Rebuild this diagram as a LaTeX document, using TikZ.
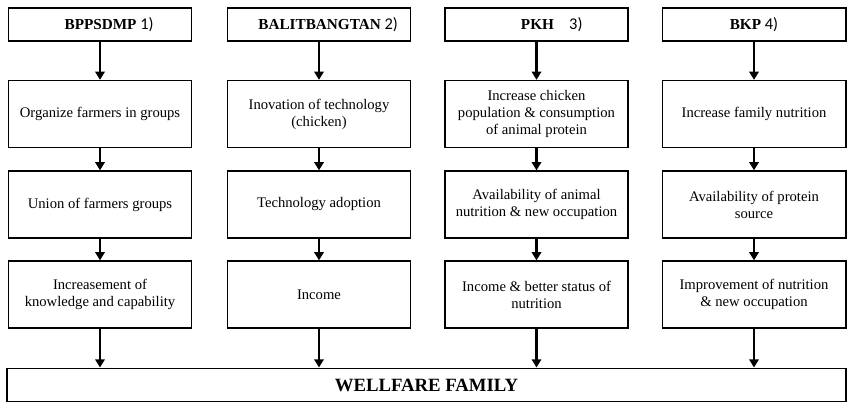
\documentclass[tikz,border=0pt]{standalone}
\usepackage{fontspec}
\setmainfont{Liberation Serif}
\setsansfont{Carlito}
\usetikzlibrary{arrows.meta}
\begin{document}
\begin{tikzpicture}[x=0.03cm,y=-0.03cm,
  box/.style={draw, line width=1.4pt, align=center, minimum width=5.5cm, inner sep=2pt,
    font=\fontsize{12.5}{14.5}\selectfont},
  head/.style={box, minimum height=1.0cm, font=\fontsize{13}{15}\selectfont\bfseries},
  stage/.style={box, minimum height=2.0cm},
  flow/.style={line width=2pt, -{Triangle[width=8pt,length=7pt]}}]
\useasboundingbox (0,0) rectangle (847,404);
% headers
\node[head] (h1) at (100,24.5) {\hspace{1.2em}BPPSDMP {\sffamily\mdseries\fontsize{14}{16}\selectfont 1)}};
\node[head] (h2) at (319,24.5) {\hspace{1.2em}BALITBANGTAN {\sffamily\mdseries\fontsize{14}{16}\selectfont 2)}};
\node[head] (h3) at (536.5,24.5) {\hspace{2em}PKH\quad {\sffamily\mdseries\fontsize{14}{16}\selectfont 3)}};
\node[head] (h4) at (754,24.5) {BKP {\sffamily\mdseries\fontsize{14}{16}\selectfont 4)}};
% first row
\node[stage] (a1) at (100,114) {Organize farmers in groups};
\node[stage] (a2) at (319,114) {Inovation of technology\\(chicken)};
\node[stage] (a3) at (536.5,114) {Increase chicken\\population \& consumption\\of animal protein};
\node[stage] (a4) at (754,114) {Increase family nutrition};
% second row
\node[stage] (u1) at (100,204.5) {Union of farmers groups};
\node[stage] (u2) at (319,204.5) {Technology adoption};
\node[stage] (u3) at (536.5,204.5) {Availability of animal\\nutrition \& new occupation};
\node[stage] (u4) at (754,204.5) {Availability of protein\\source};
% third row
\node[stage] (o1) at (100,294.5) {Increasement of\\knowledge and capability};
\node[stage] (o2) at (319,294.5) {Income};
\node[stage] (o3) at (536.5,294.5) {Income \& better status of\\nutrition};
\node[stage] (o4) at (754,294.5) {Improvement of nutrition\\\& new occupation};
% result
\node[box, minimum width=25.17cm, minimum height=1.0cm, font=\fontsize{16}{18}\selectfont\bfseries] (w) at (426.5,385) {WELLFARE FAMILY};
\draw[flow] (h1) -- (a1);
\draw[flow] (h2) -- (a2);
\draw[flow] (h3) -- (a3);
\draw[flow] (h4) -- (a4);
\draw[flow] (a1) -- (u1);
\draw[flow] (a2) -- (u2);
\draw[flow] (a3) -- (u3);
\draw[flow] (a4) -- (u4);
\draw[flow] (u1) -- (o1);
\draw[flow] (u2) -- (o2);
\draw[flow] (u3) -- (o3);
\draw[flow] (u4) -- (o4);
\draw[flow] (o1) -- (o1 |- w.north);
\draw[flow] (o2) -- (o2 |- w.north);
\draw[flow] (o3) -- (o3 |- w.north);
\draw[flow] (o4) -- (o4 |- w.north);
\end{tikzpicture}
\end{document}
